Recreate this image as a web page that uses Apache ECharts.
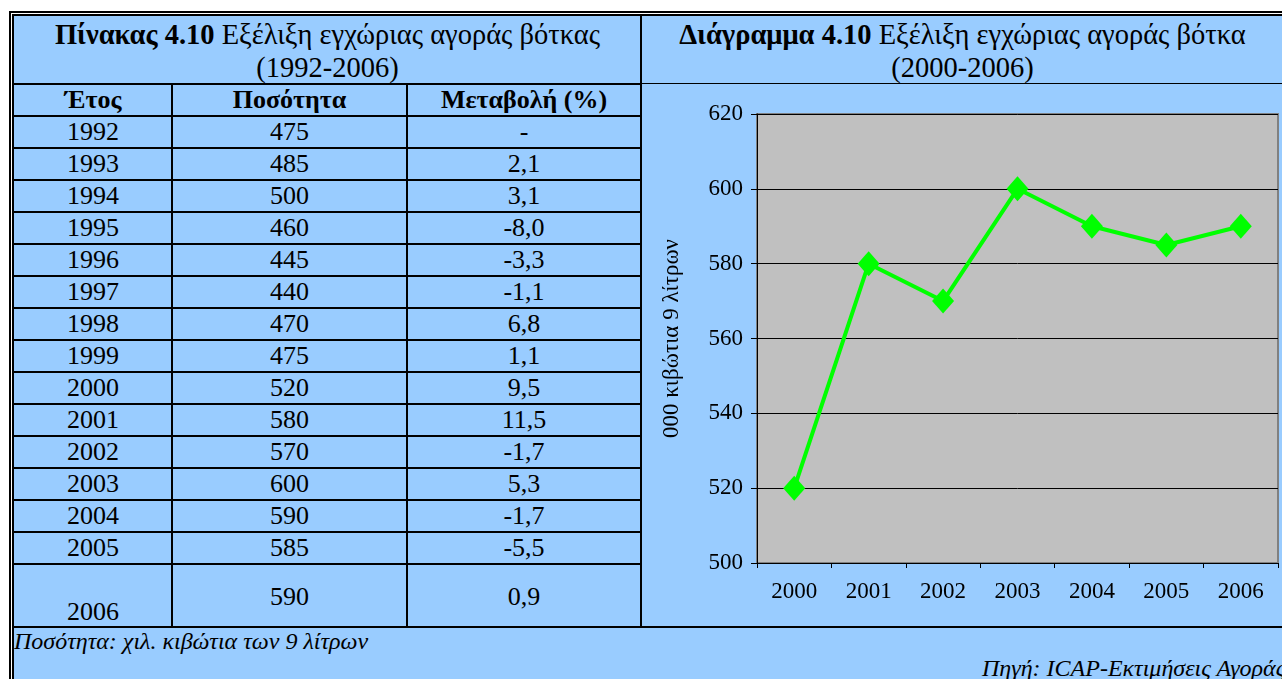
<!DOCTYPE html>
<html lang="el">
<head>
<meta charset="utf-8">
<title>Διάγραμμα 4.10</title>
<script src="https://cdn.jsdelivr.net/npm/echarts@6/dist/echarts.min.js"></script>
<style>
    html, body { margin: 0; padding: 0; background: #fff; }
    body { width: 1282px; height: 679px; position: relative; overflow: hidden;
           font-family: 'Liberation Serif', 'Times New Roman', serif; color: #000; }
    .frame { position: absolute; left: 9px; top: 11px; width: 1300px; height: 700px;
             border-left: 5px double #000; border-top: 5px double #000;
             background: #99CCFF; background-clip: padding-box; }
    .title { position: absolute; text-align: center; font-size: 28.5px; line-height: 33px; white-space: nowrap; }
    .hl, .vl { position: absolute; background: #000; }
    .cell { position: absolute; text-align: center; font-size: 26px; line-height: 32px; }
    .head { font-weight: bold; }
    .note { position: absolute; font-style: italic; font-size: 24px; line-height: 26px; white-space: nowrap; }
    #chart { position: absolute; left: 642px; top: 84px; width: 640px; height: 543px; }
</style>
</head>
<body>
<div class="frame"></div>
<div class="title" style="left:14px; top:18px; width:627px;"><b>Πίνακας 4.10</b> Εξέλιξη εγχώριας αγοράς βότκας<br>(1992-2006)</div>
<div class="title" style="left:643px; top:18px; width:639px;"><b>Διάγραμμα 4.10</b> Εξέλιξη εγχώριας αγοράς βότκα<br>(2000-2006)</div>
<div id="table"></div>
<div class="note" style="left:14px; top:628px;">Ποσότητα: χιλ. κιβώτια των 9 λίτρων</div>
<div class="note" style="left:982px; top:655px;">Πηγή: ICAP-Εκτιμήσεις Αγοράς</div>
<div id="chart"></div>
<script>
// ============================================
// Δεδομένα πίνακα
// ============================================
const headers = ['Έτος', 'Ποσότητα', 'Μεταβολή (%)'];
const years = ['1992', '1993', '1994', '1995', '1996', '1997', '1998', '1999',
               '2000', '2001', '2002', '2003', '2004', '2005', '2006'];
const quantities = [475, 485, 500, 460, 445, 440, 470, 475, 520, 580, 570, 600, 590, 585, 590];
const changes = ['-', '2,1', '3,1', '-8,0', '-3,3', '-1,1', '6,8', '1,1',
                 '9,5', '11,5', '-1,7', '5,3', '-1,7', '-5,5', '0,9'];

// Δεδομένα διαγράμματος
const chartYears = ['2000', '2001', '2002', '2003', '2004', '2005', '2006'];
const chartValues = [520, 580, 570, 600, 590, 585, 590];
const yMin = 500, yMax = 620, yStep = 20;

// ============================================
// Πίνακας
// ============================================
const colX = [14, 172, 407, 641];
const headTop = 84, rowH = 32, lastRowH = 63;
const tableEl = document.getElementById('table');

function line(cls, x, y, w, h) {
    const d = document.createElement('div');
    d.className = cls;
    d.style.cssText = `left:${x}px;top:${y}px;width:${w}px;height:${h}px;`;
    tableEl.appendChild(d);
}

function cell(text, col, top, h, extra) {
    const d = document.createElement('div');
    d.className = 'cell' + (extra ? ' ' + extra : '');
    d.style.left = colX[col] + 'px';
    d.style.width = (colX[col + 1] - colX[col]) + 'px';
    d.style.top = top + 'px';
    d.style.height = h + 'px';
    d.textContent = text;
    tableEl.appendChild(d);
    return d;
}

headers.forEach((h, i) => cell(h, i, headTop, rowH, 'head'));
years.forEach((y, i) => {
    const top = headTop + rowH * (i + 1);
    const last = i === years.length - 1;
    const h = last ? lastRowH : rowH;
    const c0 = cell(y, 0, top, h);
    const c1 = cell(String(quantities[i]), 1, top, h);
    const c2 = cell(changes[i], 2, top, h);
    if (last) {
        // η τελευταία γραμμή είναι ψηλότερη: το έτος κάτω, οι τιμές στη μέση
        c0.style.paddingTop = '32px'; c0.style.height = (h - 32) + 'px';
        c1.style.paddingTop = '17px'; c1.style.height = (h - 17) + 'px';
        c2.style.paddingTop = '17px'; c2.style.height = (h - 17) + 'px';
    }
});

// γραμμές
const tableBottom = headTop + rowH * years.length + lastRowH;
for (let i = 0; i <= years.length; i++) {
    line('hl', colX[0], headTop + rowH * i - 1, colX[3] - colX[0], 2);
}
line('hl', colX[0], tableBottom - 1, 1282 - colX[0], 2);
line('vl', colX[1] - 1, headTop, 2, tableBottom - headTop);
line('vl', colX[2] - 1, headTop, 2, tableBottom - headTop);
line('vl', colX[3] - 1, 15, 2, tableBottom - 15);
line('hl', colX[3], 83, 1282 - colX[3], 1);

// ============================================
// Διάγραμμα
// ============================================
const chart = echarts.init(document.getElementById('chart'));
const fontFamily = "'Liberation Serif', 'Times New Roman', serif";

chart.setOption({
    animation: false,
    grid: {
        left: 115, right: 4, top: 30, bottom: 64,
        show: true,
        backgroundColor: '#C0C0C0',
        borderColor: '#808080',
        borderWidth: 2
    },
    xAxis: {
        type: 'category',
        data: chartYears,
        boundaryGap: true,
        axisLine: { lineStyle: { color: '#000', width: 1 } },
        axisTick: { show: true, length: 5, lineStyle: { color: '#000' } },
        axisLabel: { color: '#000', fontSize: 23, fontFamily, margin: 17 }
    },
    yAxis: {
        type: 'value',
        min: yMin, max: yMax, interval: yStep,
        name: '000 κιβώτια 9 λίτρων',
        nameLocation: 'middle',
        nameGap: 74,
        nameRotate: 90,
        nameTextStyle: { color: '#000', fontSize: 23, fontFamily },
        axisLine: { show: true, lineStyle: { color: '#000', width: 1 } },
        axisTick: { show: true, length: 6, lineStyle: { color: '#000' } },
        axisLabel: { color: '#000', fontSize: 23, fontFamily, margin: 14 },
        splitLine: { show: true, lineStyle: { color: '#000', width: 1 } }
    },
    series: [{
        type: 'line',
        data: chartValues,
        symbol: 'diamond',
        symbolSize: [22, 25],
        lineStyle: { color: '#00FF00', width: 4 },
        itemStyle: { color: '#00FF00' }
    }]
});
</script>
</body>
</html>
